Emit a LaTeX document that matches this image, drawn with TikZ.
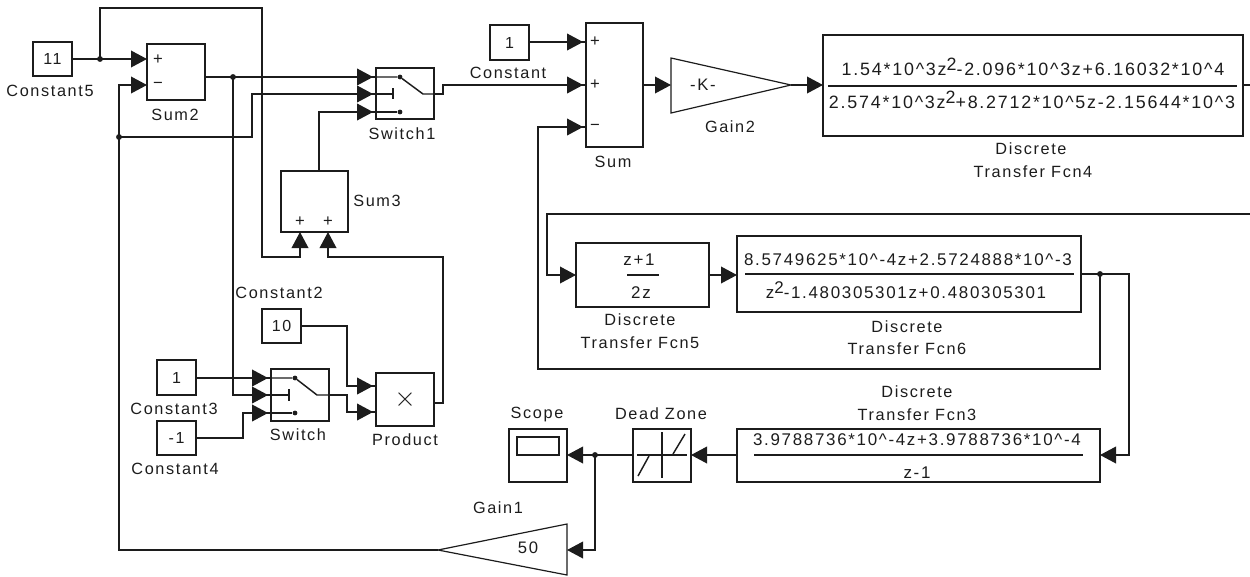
\documentclass[tikz,border=0pt]{standalone}
\usepackage{fontspec}
\setmainfont[LetterSpace=10]{Liberation Sans}
\usetikzlibrary{arrows.meta}
\definecolor{ink}{HTML}{1C1C1C}
\tikzset{
  x=0.75pt,y=-0.75pt,
  block/.style={draw=ink,line width=1.1pt,inner sep=0pt,outer sep=0pt,text=ink,font=\fontsize{12pt}{14pt}\selectfont},
  lab/.style={inner sep=0pt,text=ink,align=center,font=\fontsize{12.2pt}{14pt}\selectfont},
  frac/.style={inner sep=0pt,text=ink,font=\fontsize{12.7pt}{14pt}\selectfont},
  fracwide/.style={inner sep=0pt,text=ink,font=\fontsize{13.4pt}{14pt}\selectfont},
  sign/.style={inner sep=0pt,text=ink,font=\fontsize{12.5pt}{14pt}\selectfont},
  plain/.style={draw=ink,line width=1.1pt,line join=miter},
  thin line/.style={draw=ink,line width=0.9pt},
  wire/.style={plain,-{Triangle[length=12pt,width=12.5pt]}},
  wirestub/.style={plain,-{Triangle[length=12pt,width=12.5pt]Rectangle[length=2.2pt,width=1.1pt]}},
  junction/.style={circle,fill=ink,inner sep=0pt,minimum size=4.4pt},
  swdot/.style={circle,fill=ink,inner sep=0pt,minimum size=3.6pt},
}
\newcommand{\blk}[6]{\node[block,minimum width={(#4-#2)*0.75pt},minimum height={(#5-#3)*0.75pt}] (#1) at ({(#2+#4)/2},{(#3+#5)/2}) {#6};}
\newcommand{\ct}{\textasciicircum}
\newcommand{\up}[1]{\raisebox{3.8pt}{#1}}
\begin{document}
\begin{tikzpicture}
\useasboundingbox (0,0) rectangle (1250,576);
% blocks
\blk{const5}{33}{42}{72}{76}{11}
\blk{sum2}{147}{44}{205}{100}{}
\blk{sw1}{376}{68}{434}{119}{}
\blk{sum3}{281}{171}{348}{232}{}
\blk{const}{490}{25}{529}{60}{1}
\blk{sum}{586}{23}{643}{147}{}
\blk{tf4}{823}{35}{1243}{136}{}
\blk{tf5}{576}{243}{709}{307}{}
\blk{tf6}{737}{236}{1081}{312}{}
\blk{tf3}{737}{429}{1100}{482}{}
\blk{dz}{633}{429}{691}{482}{}
\blk{scope}{509}{429}{567}{482}{}
\blk{const2}{262}{309}{301}{343}{10}
\blk{sw}{271}{369}{329}{421}{}
\blk{prod}{376}{373}{434}{426}{\fontsize{20pt}{20pt}\selectfont $\times$}
\blk{const3}{157}{360}{196}{395}{1}
\blk{const4}{157}{421}{196}{455}{-1}
\coordinate (g2in) at (671,85); \coordinate (g2tip) at (791,85);
\coordinate (g1in) at (567,550); \coordinate (g1tip) at (438,550);
\draw[thin line,line join=miter] (671,58) -- (671,113) -- (g2tip) -- cycle;
\draw[thin line,line join=miter] (567,524) -- (567,575) -- (g1tip) -- cycle;
% signs
\node[sign] (s2p) at (158,60) {+};
\node[sign] (s2m) at (158,85) {\textminus};
\node[sign] (sp1) at (595,42) {+};
\node[sign] (sp2) at (595,85) {+};
\node[sign] (sm)  at (595,127) {\textminus};
\node[sign] (s3a) at (300,222) {+};
\node[sign] (s3b) at (328,222) {+};
\node[sign] (k) at (703,85) {-K-};
\node[sign] (fifty) at (528,548) {50};
% labels
\node[lab] (l1) at (50,91) {Constant5};
\node[lab] (l2) at (175,115) {Sum2};
\node[lab] (l3) at (402,134) {Switch1};
\node[lab] (l4) at (377,201) {Sum3};
\node[lab] (l5) at (508,73) {Constant};
\node[lab] (l6) at (613,162) {Sum};
\node[lab] (l7) at (730,127) {Gain2};
\node[lab] (l8) at (1031,149) {Discrete};
\node[lab] (l9) at (1033,172) {Transfer Fcn4};
\node[lab] (l10) at (640,320) {Discrete};
\node[lab] (l11) at (640,343) {Transfer Fcn5};
\node[lab] (l12) at (907,327) {Discrete};
\node[lab] (l13) at (907,349) {Transfer Fcn6};
\node[lab] (l14) at (917,392) {Discrete};
\node[lab] (l15) at (917,415) {Transfer Fcn3};
\node[lab] (l16) at (661,414) {Dead Zone};
\node[lab] (l17) at (537,414) {Scope};
\node[lab] (l18) at (498,508) {Gain1};
\node[lab] (l19) at (279,293) {Constant2};
\node[lab] (l20) at (174,409) {Constant3};
\node[lab] (l21) at (175,469) {Constant4};
\node[lab] (l22) at (298,435) {Switch};
\node[lab] (l23) at (405,440) {Product};
% transfer functions
\node[fracwide] (n4) at (1033,67) {1.54*10\ct3z\up{2}-2.096*10\ct3z+6.16032*10\ct4};
\node[fracwide] (d4) at (1032,100) {2.574*10\ct3z\up{2}+8.2712*10\ct5z-2.15644*10\ct3};
\draw[plain] (828,86) -- (1237,86);
\node[frac] (n5) at (639,260) {z+1};
\node[frac] (d5) at (641,293) {2z};
\draw[plain] (627,275) -- (659,275);
\node[frac] (n6) at (908,260) {8.5749625*10\ct-4z+2.5724888*10\ct-3};
\node[frac] (d6) at (906,290) {z\up{2}-1.480305301z+0.480305301};
\draw[plain] (745,274) -- (1074,274);
\node[frac] (n3) at (917,440) {3.9788736*10\ct-4z+3.9788736*10\ct-4};
\node[frac] (d3) at (917,473) {z-1};
\draw[plain] (754,455) -- (1083,455);
% switch 1 internals
\coordinate (a1) at (376,77); \coordinate (a2) at (376,94); \coordinate (a3) at (376,112);
\node[swdot] (a1d) at (400,77) {}; \node[swdot] (a3d) at (400,112) {};
\coordinate (a4) at (423,94); \coordinate (aout) at (434,94);
\draw[plain] (a1) -- (a1d) -- (a4) -- (aout);
\draw[plain] (a2) -- (393,94); \draw[plain] (393,88) -- (393,99);
\draw[plain] (a3) -- (a3d);
% switch internals
\coordinate (b1) at (271,378); \coordinate (b2) at (271,395); \coordinate (b3) at (271,413);
\node[swdot] (b1d) at (295,378) {}; \node[swdot] (b3d) at (295,413) {};
\coordinate (b4) at (317,395); \coordinate (bout) at (329,395);
\draw[plain] (b1) -- (b1d) -- (b4) -- (bout);
\draw[plain] (b2) -- (289,395); \draw[plain] (289,389) -- (289,401);
\draw[plain] (b3) -- (b3d);
% dead zone internals
\draw[plain] (637,455) -- (687,455);
\draw[plain] (662,432) -- (662,478);
\draw[plain] (638,476) -- (649,456);
\draw[plain] (673,454) -- (685,434);
% scope screen
\node[block,minimum width={42*0.75pt},minimum height={18*0.75pt}] (screen) at (538,446) {};
% ports
\coordinate (s2a) at (147,59); \coordinate (s2b) at (147,85); \coordinate (s2o) at (205,77);
\coordinate (sa) at (586,42); \coordinate (sb) at (586,85); \coordinate (sc) at (586,127);
\coordinate (s3ai) at (300,232); \coordinate (s3bi) at (328,232);
\coordinate (pa) at (376,386); \coordinate (pb) at (376,412); \coordinate (po) at (434,403);
\coordinate (tf6o) at (1081,274); \coordinate (tf3i) at (1100,455); \coordinate (tf3o) at (737,455);
\coordinate (dzi) at (691,455); \coordinate (dzo) at (633,455); \coordinate (scopei) at (567,455);
\coordinate (s3top) at (319,171);
\coordinate (tf4o) at (1243,85); \coordinate (edge1) at (1250,85); \coordinate (edge2) at (1250,214);
\coordinate (c2o) at (301,326); \coordinate (tf5i) at (576,275); \coordinate (tf5o) at (709,275); \coordinate (tf6i) at (737,275);
\coordinate (gi) at (823,85); \coordinate (sumo) at (643,85);
\coordinate (c3o) at (196,378); \coordinate (c4o) at (196,438); \coordinate (co) at (529,42);
% junctions
\node[junction] (j1) at (100,59) {};
\node[junction] (j2) at (233,77) {};
\node[junction] (j3) at (119,137) {};
\node[junction] (j4) at (1100,274) {};
\node[junction] (j5) at (595,455) {};
% connectors
\draw[wire] (const5.east |- s2a) -- (s2a);
\draw[wire] (j1.center) -- (100,8) -- (262,8) -- (262,257) -- (300,257) -- (s3ai);
\draw[wirestub] (s2o) -- (a1);
\draw[wirestub] (j2.center) -- (233,395) -- (b2);
\draw[wire] (g1tip) -- (119,550) -- (119,85) -- (s2b);
\draw[wirestub] (j3.center) -- (252,137) -- (252,94) -- (a2);
\draw[wirestub] (s3top) -- (319,112) -- (a3);
\draw[wirestub] (aout) -- (443,94) -- (443,85) -- (sb);
\draw[wirestub] (co) -- (sa);
\draw[wire] (sumo) -- (g2in);
\draw[wire] (g2tip) -- (gi);
\draw[plain] (tf4o) -- (edge1);
\draw[wire] (edge2) -- (547,214) -- (547,275) -- (tf5i);
\draw[wire] (tf5o) -- (tf6i);
\draw[wirestub] (j4.center) -- (1100,369) -- (538,369) -- (538,127) -- (sc);
\draw[wire] (tf6o) -- (1129,274) -- (1129,455) -- (tf3i);
\draw[wire] (tf3o) -- (dzi);
\draw[wire] (dzo) -- (scopei);
\draw[wire] (j5.center) -- (595,550) -- (g1in);
\draw[wirestub] (c2o) -- (347,326) -- (347,386) -- (pa);
\draw[wirestub] (bout) -- (347,395) -- (347,412) -- (pb);
\draw[wire] (po) -- (443,403) -- (443,257) -- (328,257) -- (s3bi);
\draw[wirestub] (c3o) -- (b1);
\draw[wirestub] (c4o) -- (243,438) -- (243,413) -- (b3);
\end{tikzpicture}
\end{document}
